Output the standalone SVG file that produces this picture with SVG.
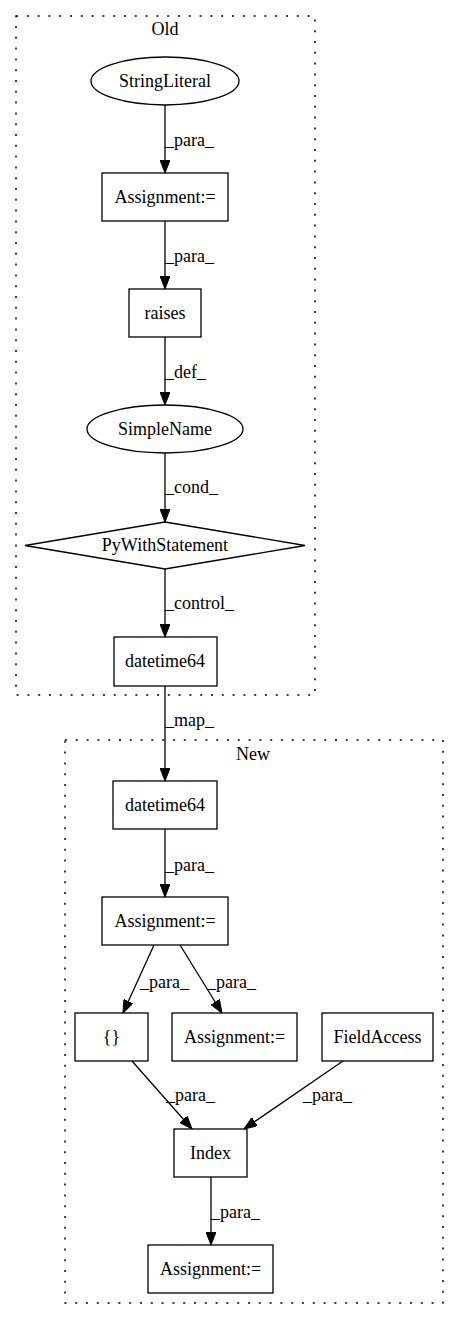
<svg xmlns="http://www.w3.org/2000/svg" width="460" height="1320" viewBox="0 0 460 1320">
<style>
text{font-family:"Liberation Serif","Times New Roman",serif;font-size:18px;fill:#000}
.c{text-anchor:middle}
.shape{fill:none;stroke:#000;stroke-width:1.3}
.cl{fill:none;stroke:#000;stroke-width:1.5;stroke-dasharray:2,8.8}
.e{fill:none;stroke:#000;stroke-width:1.3}
</style>
<defs>
<marker id="ah" viewBox="0 0 13 10" refX="13" refY="5" markerWidth="13" markerHeight="10" markerUnits="userSpaceOnUse" orient="auto">
<polygon points="0,0 13,5 0,10" fill="#000" stroke="#000" stroke-width="1"/>
</marker>
</defs>
<rect width="460" height="1320" fill="#fff"/>
<g id="cluster-old">
<rect class="cl" x="16" y="16" width="299" height="679"/>
<text class="c" x="165" y="35">Old</text>
</g>
<g id="cluster-new">
<rect class="cl" x="65" y="740" width="378" height="563"/>
<text class="c" x="253" y="760">New</text>
</g>
<g id="connectors">
<path class="e" d="M165,105 L165,173" marker-end="url(#ah)"/>
<text x="165" y="146">_para_</text>
<path class="e" d="M165,221 L165,289" marker-end="url(#ah)"/>
<text x="165" y="262">_para_</text>
<path class="e" d="M165,337 L165,405" marker-end="url(#ah)"/>
<text x="165" y="378">_def_</text>
<path class="e" d="M165,453 L165,522" marker-end="url(#ah)"/>
<text x="165" y="493">_cond_</text>
<path class="e" d="M165,569 L165,637" marker-end="url(#ah)"/>
<text x="165" y="609">_control_</text>
<path class="e" d="M165,686 L165,781" marker-end="url(#ah)"/>
<text x="165" y="726">_map_</text>
<path class="e" d="M165,829 L165,897" marker-end="url(#ah)"/>
<text x="165" y="871">_para_</text>
<path class="e" d="M154,945 L123,1013" marker-end="url(#ah)"/>
<text x="140" y="988">_para_</text>
<path class="e" d="M180,945 L222,1013" marker-end="url(#ah)"/>
<text x="207" y="988">_para_</text>
<path class="e" d="M132,1061 L192,1129" marker-end="url(#ah)"/>
<text x="166" y="1101">_para_</text>
<path class="e" d="M343,1061 L244,1129" marker-end="url(#ah)"/>
<text x="303" y="1101">_para_</text>
<path class="e" d="M211,1177 L211,1245" marker-end="url(#ah)"/>
<text x="211" y="1218">_para_</text>
</g>
<g id="n-stringliteral">
<ellipse class="shape" cx="165" cy="81" rx="74" ry="24"/>
<text class="c" x="165" y="87">StringLiteral</text>
</g>
<g id="n-assign-old">
<rect class="shape" x="102" y="173" width="126" height="48"/>
<text class="c" x="165" y="203">Assignment:=</text>
</g>
<g id="n-raises">
<rect class="shape" x="129" y="289" width="72" height="48"/>
<text class="c" x="165" y="319">raises</text>
</g>
<g id="n-simplename">
<ellipse class="shape" cx="165" cy="429" rx="78" ry="24"/>
<text class="c" x="165" y="435">SimpleName</text>
</g>
<g id="n-pywith">
<polygon class="shape" points="165,522 305,545.5 165,569 25,545.5"/>
<text class="c" x="165" y="551">PyWithStatement</text>
</g>
<g id="n-datetime-old">
<rect class="shape" x="114" y="637" width="103" height="49"/>
<text class="c" x="165" y="667">datetime64</text>
</g>
<g id="n-datetime-new">
<rect class="shape" x="113" y="781" width="104" height="48"/>
<text class="c" x="165" y="811">datetime64</text>
</g>
<g id="n-assign-new1">
<rect class="shape" x="102" y="897" width="126" height="48"/>
<text class="c" x="165" y="927">Assignment:=</text>
</g>
<g id="n-braces">
<rect class="shape" x="75" y="1013" width="73" height="48"/>
<text class="c" x="111.5" y="1043">{}</text>
</g>
<g id="n-assign-new2">
<rect class="shape" x="172" y="1013" width="125" height="48"/>
<text class="c" x="234.5" y="1043">Assignment:=</text>
</g>
<g id="n-fieldaccess">
<rect class="shape" x="322" y="1013" width="111" height="48"/>
<text class="c" x="377.5" y="1043">FieldAccess</text>
</g>
<g id="n-index">
<rect class="shape" x="174" y="1129" width="73" height="48"/>
<text class="c" x="210.5" y="1159">Index</text>
</g>
<g id="n-assign-new3">
<rect class="shape" x="148" y="1245" width="125" height="48"/>
<text class="c" x="210.5" y="1275">Assignment:=</text>
</g>
</svg>
